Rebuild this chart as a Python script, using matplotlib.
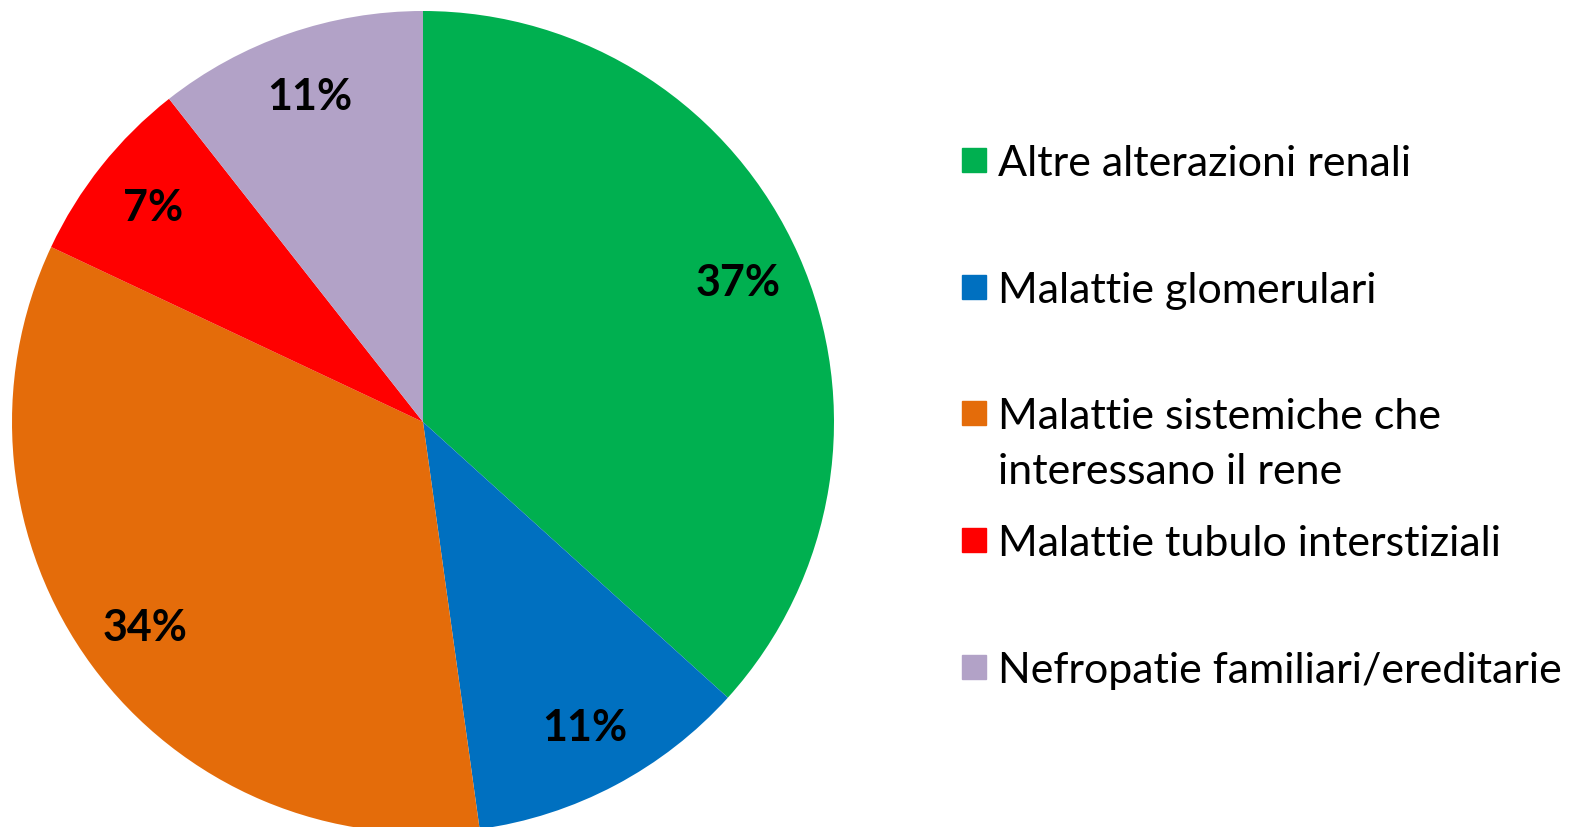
import matplotlib.pyplot as plt
from matplotlib.patches import Rectangle

# Dati (quote percentuali)
categorie = ['Altre alterazioni renali', 'Malattie glomerulari',
             'Malattie sistemiche che\ninteressano il rene',
             'Malattie tubulo interstiziali', 'Nefropatie familiari/ereditarie']
valori = [36.7, 11.1, 34.2, 7.4, 10.6]
colori = ['#00B050', '#0070C0', '#E46C0A', '#FF0000', '#B2A2C7']

plt.rcParams['font.family'] = ['Lato', 'DejaVu Sans']

W, H = 1575, 828
fig = plt.figure(figsize=(W / 100, H / 100), dpi=100)

# Torta: centro e raggio in pixel
cx, cy, r = 423, 423, 411
ax = fig.add_axes([(cx - r) / W, (H - cy - r) / H, 2 * r / W, 2 * r / H])
wedges, testi, autotesti = ax.pie(
    valori, colors=colori, startangle=90, counterclock=False,
    autopct='%1.0f%%', pctdistance=0.84,
    wedgeprops=dict(linewidth=0),
    textprops=dict(fontsize=31, fontweight='bold', color='black'))
ax.set_xlim(-1, 1)
ax.set_ylim(-1, 1)
ax.set_aspect('equal')

# Legenda manuale
y_centri = [161, 288, 414, 541, 668]
for cat, col, yc in zip(categorie, colori, y_centri):
    fig.patches.append(Rectangle((962 / W, (H - yc - 12) / H), 24 / W, 24 / H,
                                 transform=fig.transFigure, color=col))
    for i, riga in enumerate(cat.split('\n')):
        fig.text(998 / W, (H - yc - 3 - i * 55) / H, riga, fontsize=31,
                 va='center', ha='left')

plt.savefig('out.png', dpi=100)
